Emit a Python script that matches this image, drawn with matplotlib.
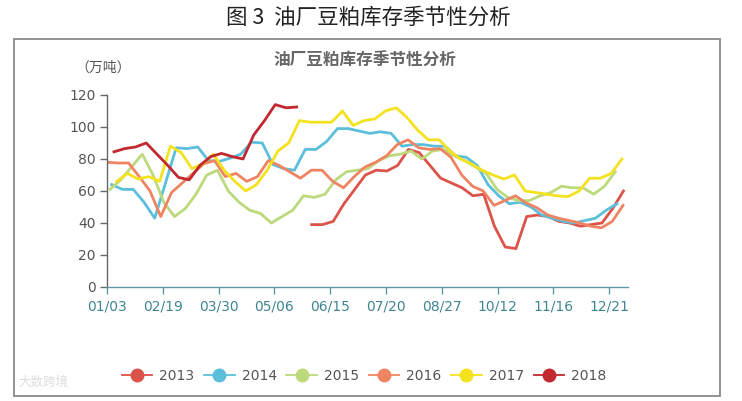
import numpy as np
import matplotlib
matplotlib.use("Agg")
import matplotlib.pyplot as plt
from matplotlib.patches import Rectangle

plt.rcParams['font.family'] = ['Noto Sans CJK SC', 'DejaVu Sans']

# -------------------------------
# DATA (weekly inventory, 万吨)
# -------------------------------
tick_labels = ["01/03", "02/19", "03/30", "05/06", "06/15",
               "07/20", "08/27", "10/12", "11/16", "12/21"]

years = ["2013", "2014", "2015", "2016", "2017", "2018"]

# first week position of each series on the seasonal axis (weeks)
start_week = {"2013": 19.04, "2014": 0.44, "2015": 0.28,
              "2016": 0.0, "2017": 0.90, "2018": 0.65}

v2013 = [39, 39, 41, 52, 61, 70, 73, 72.5, 76, 86, 84, 76, 68, 65, 62, 57,
         58, 38, 25, 24, 44, 45, 44, 41, 40, 38, 39, 40, 49, 60]

v2014 = [64, 61, 61, 53, 43, 65, 87, 86.5, 87.5, 79, 78.5, 80.5, 83, 90.5,
         90, 76.5, 74, 73, 86, 86, 91, 99, 99, 97.5, 96, 97, 96, 88, 89, 89,
         88, 88, 82, 81, 76, 64, 57, 52, 53, 50, 45, 43, 41, 40, 41.5, 43,
         48, 52]

v2015 = [61, 67, 75, 83, 70, 53, 44, 49, 58, 70, 73, 60, 53, 48, 46, 40,
         44, 48, 57, 56, 58, 67, 72, 73, 74, 79, 82, 83, 85, 80, 85, 86, 82,
         79, 75, 71, 61, 56, 54, 54, 57, 59, 63, 62, 62, 58, 63, 72]

v2016 = [78, 77.5, 77.5, 69, 60, 44, 59, 65, 71, 77, 79, 69, 71, 66, 69, 79,
         76, 72, 68, 73, 73, 66, 62, 69, 75, 78, 82, 89, 92, 87, 86, 86.5, 81,
         70, 63, 60, 51, 54, 57, 52.5, 49.5, 45, 43, 41.5, 40, 38, 37, 41, 51]

v2017 = [66, 71, 67.5, 69, 66, 88, 84, 74, 77, 83, 73, 66, 60, 64, 73, 85,
         90, 104, 103, 103, 103, 110, 101, 104, 105, 110, 112, 106, 98, 92,
         92, 85, 80, 77, 73, 70, 67.5, 70, 60, 59, 58, 57, 56.5, 60, 68, 68,
         71, 80]

v2018 = [84.5, 86.5, 87.5, 90, 83, 76, 68.5, 67, 76, 81.5, 83.5, 81.5, 80,
         95, 104, 114, 112, 112.5]

series = {"2013": v2013, "2014": v2014, "2015": v2015,
          "2016": v2016, "2017": v2017, "2018": v2018}

colors = {"2013": "#dc5349", "2014": "#5bbfdc", "2015": "#bcda7c",
          "2016": "#ef8463", "2017": "#f5e21e", "2018": "#c1282f"}

num_font = "DejaVu Sans"

# -------------------------------
# FIGURE
# -------------------------------
fig = plt.figure(figsize=(7.42, 4.01), dpi=100)
W, H = 742, 401

# outer frame
fig.patches.append(Rectangle((14 / W, 1 - 396 / H), 706 / W, 357 / H,
                             transform=fig.transFigure, fill=False,
                             edgecolor="#8a8a8a", linewidth=1.3))

fig.text(368 / W, 1 - 18 / H, "图 3  油厂豆粕库存季节性分析", ha="center",
         va="center", fontsize=15.5, color="#222222")

ax = fig.add_axes([107 / W, 1 - 287 / H, 521 / W, 192 / H])

week_px = 10.75
for y in years:
    vals = series[y]
    x = start_week[y] + np.arange(len(vals))
    ax.plot(x, vals, color=colors[y], lw=2.0, label=y,
            solid_joinstyle="round")

ax.set_xlim(0, 521 / week_px)
ax.set_ylim(0, 120)
ax.set_yticks(range(0, 121, 20))
ax.set_xticks([k * 55.8 / week_px for k in range(len(tick_labels))])
ax.set_xticklabels(tick_labels)
for lab in ax.get_xticklabels() + ax.get_yticklabels():
    lab.set_family(num_font)

for s in ["top", "right"]:
    ax.spines[s].set_visible(False)
ax.spines["left"].set_color("#666666")
ax.spines["bottom"].set_color("#5d9aa6")
ax.spines["left"].set_linewidth(1.0)
ax.spines["bottom"].set_linewidth(1.0)
ax.tick_params(axis="y", colors="#666666", labelcolor="#555555",
               labelsize=10, length=5, width=1, pad=3)
ax.tick_params(axis="x", colors="#5d9aa6", labelcolor="#3f8592",
               labelsize=10, length=5, width=1, pad=4)

fig.text(365 / W, 1 - 61 / H, "油厂豆粕库存季节性分析", ha="center",
         va="center", fontsize=12, fontweight="bold", color="#666666")
fig.text(103 / W, 1 - 68 / H, "（万吨）", ha="center", va="center",
         fontsize=10, color="#555555")

# legend with circle markers
handles = [plt.Line2D([], [], color=colors[y], lw=1.3, marker="o",
                      markersize=9, markeredgecolor=colors[y]) for y in years]
leg = fig.legend(handles, years, loc="center", ncol=6,
                 bbox_to_anchor=(364 / W, 1 - 376 / H), frameon=False,
                 prop={"family": num_font, "size": 10},
                 handlelength=2.2, columnspacing=0.7, handletextpad=0.5)
for t in leg.get_texts():
    t.set_color("#555555")

# faint watermark
fig.text(18 / W, 1 - 382 / H, "大数跨境", ha="left", va="center",
         fontsize=9, color="#dddddd")

fig.savefig("out.png", dpi=100)
